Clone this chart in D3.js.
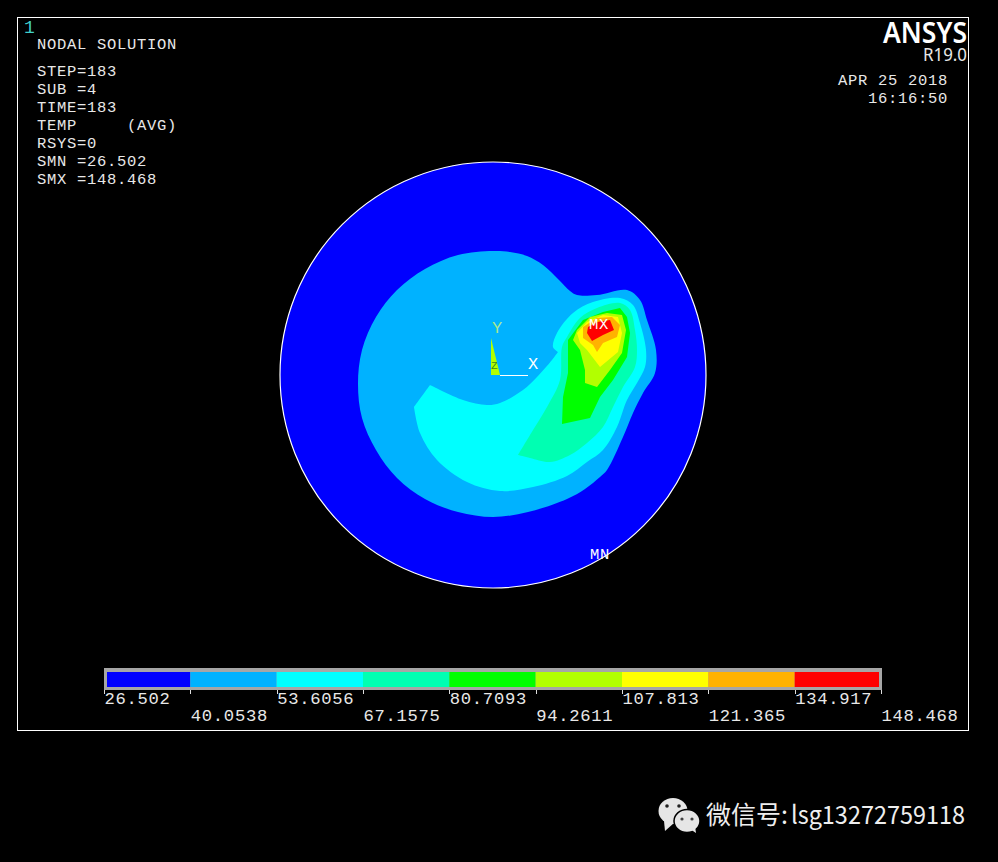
<!DOCTYPE html>
<html><head><meta charset="utf-8">
<script src="https://cdn.jsdelivr.net/npm/d3@7"></script>
<style>html,body{margin:0;background:#000;overflow:hidden}svg{display:block}
.m{font-family:"Liberation Mono",monospace;fill:#e8e8e8}</style></head>
<body><svg id="c" width="998" height="862"></svg>
<script>
const levels=[26.502,40.0538,53.6056,67.1575,80.7093,94.2611,107.813,121.365,134.917,148.468];
const levelLabels=["26.502","40.0538","53.6056","67.1575","80.7093","94.2611","107.813","121.365","134.917","148.468"];
const bandColors=["#0000ff","#00b2ff","#00ffff","#00ffb2","#00ff00","#b2ff00","#ffff00","#ffb200","#ff0000"];
const infoLines=["STEP=183","SUB =4","TIME=183","TEMP     (AVG)","RSYS=0","SMN =26.502","SMX =148.468"];
const modelRadius=213;
const band2=[[0,124],[17,123],[34,119],[50,110],[66,95],[77,84],[84,80],[104,80],[134,85],[147,75],[154,55],[163,25],[162,2],[150,-18],[140,-38],[130,-62],[114,-95],[107,-102],[92,-114],[74,-124],[35,-137],[0,-142],[-35,-137],[-68,-124],[-96,-103],[-117,-75],[-131,-43],[-135,-9],[-131,25],[-117,58],[-96,85],[-68,106],[-35,120]];
const band3=[[-63,-10],[-63,-10],[-30,-25],[-6,-30],[7,-28],[30,-15],[44,-2],[59,15],[65,23],[65,23],[60,28],[64,42],[80,62],[100,73],[127,77],[140,70],[147,52],[153,25],[152,8],[144,-8],[134,-25],[124,-52],[110,-75],[94,-87],[74,-101],[40,-112],[7,-116],[-26,-107],[-56,-85],[-73,-58],[-79,-32],[-79,-32]];
const band4=[[25,-80],[25,-80],[37,-60],[54,-32],[67,-5],[69,28],[74,38],[87,57],[104,67],[127,72],[137,65],[142,45],[144,25],[142,8],[130,-12],[120,-32],[110,-52],[94,-68],[77,-80],[57,-87],[37,-83]];
const band5=[[69,-49],[70,-22],[75,2],[75,35],[90,55],[110,63],[127,67],[134,58],[137,42],[134,18],[120,-5],[107,-22],[97,-43]];
const band6=[[92,-8],[92,5],[87,25],[80,35],[84,45],[97,58],[114,62],[129,60],[133,45],[129,22],[117,5],[104,-12]];
const band7=[[107,8],[94,25],[87,32],[84,42],[94,53],[110,60],[125,58],[129,42],[125,23]];
const band8=[[104,23],[100,30],[90,37],[90,48],[104,57],[119,58],[127,50],[124,38],[110,32]];
const band9=[[99,34],[94,42],[95,48],[104,53],[117,55],[121,45],[110,40]];
const contours=[band2,band3,band4,band5,band6,band7,band8,band9];

const svg=d3.select("#c");
svg.append("rect").attr("width",998).attr("height",862).attr("fill","#000");
svg.append("rect").attr("x",17.5).attr("y",17.5).attr("width",951).attr("height",713).attr("fill","none").attr("stroke","#fff");

const x=d3.scaleLinear().domain([-modelRadius,modelRadius]).range([280,706]);
const y=d3.scaleLinear().domain([-modelRadius,modelRadius]).range([588,162]);
const line=d3.line().x(d=>x(d[0])).y(d=>y(d[1])).curve(d3.curveLinearClosed);
const smooth=d3.line().x(d=>x(d[0])).y(d=>y(d[1])).curve(d3.curveCatmullRomClosed.alpha(.5));

svg.append("circle").attr("cx",x(0)).attr("cy",y(0)).attr("r",x(modelRadius)-x(0))
  .attr("fill",bandColors[0]).attr("stroke","#fff").attr("stroke-width",1.2);
svg.selectAll("path.band").data(contours).join("path").attr("class","band")
  .attr("d",(d,i)=>i<3?smooth(d):line(d)).attr("fill",(d,i)=>bandColors[i+1]);

// triad
svg.append("path").attr("d",line([[-2,37],[-2,0],[7,0]])).attr("fill","#b2ff00");
svg.append("line").attr("x1",x(7)).attr("x2",x(35)).attr("y1",y(0)+.5).attr("y2",y(0)+.5).attr("stroke","#fff");
const txt=(s,px,py,size,fill,anchor,ls)=>svg.append("text").attr("class","m").attr("x",px).attr("y",py)
  .attr("font-size",size).attr("text-anchor",anchor||"start").style("fill",fill||"#e8e8e8").style("letter-spacing",(ls||0)+"px").style("white-space","pre").text(s);
txt("Y",492,333,17,"#a8e890");
txt("X",528,369,17,"#ffffff");
txt("Z",491,369,11,"#3a8a20");
txt("MX",589,329,15.5,"#ffffff",null,.7);
txt("MN",590,559,15.5,"#ffffff",null,.7);

// header
txt("1",24,33,18,"#40d0c8");
txt("NODAL SOLUTION",37,49,15.5,null,null,.7);
infoLines.forEach((s,i)=>txt(s,37,76+i*18,15.5,null,null,.7));
txt("APR 25 2018",838,85,15.5,null,null,.7);
txt("16:16:50",868,103,15.5,null,null,.7);
svg.append("text").attr("x",967).attr("y",43).attr("text-anchor","end")
  .attr("font-family","Noto Sans").attr("font-weight",600).attr("font-size",29).attr("fill","#fff")
  .attr("textLength",84).attr("lengthAdjust","spacingAndGlyphs").text("ANSYS");
svg.append("text").attr("x",967).attr("y",61).attr("text-anchor","end")
  .attr("font-family","Noto Sans").attr("font-size",18).attr("fill","#e8e8e8")
  .attr("textLength",44).attr("lengthAdjust","spacingAndGlyphs").text("R19.0");

// legend
const lx=d3.scaleLinear().domain([levels[0],levels[9]]).range([104,881]);
svg.append("rect").attr("x",lx(levels[0])).attr("y",668).attr("width",lx(levels[9])-lx(levels[0])+1).attr("height",22).attr("fill","#a6a6a6");
svg.selectAll("rect.lg").data(bandColors).join("rect").attr("class","lg")
  .attr("x",(d,i)=>i==0?lx(levels[0])+3:lx(levels[i]))
  .attr("width",(d,i)=>(i==8?lx(levels[9])-2:lx(levels[i+1]))-(i==0?lx(levels[0])+3:lx(levels[i])))
  .attr("y",672).attr("height",15).attr("fill",d=>d);
svg.selectAll("line.t").data(levels).join("line").attr("class","t")
  .attr("x1",d=>Math.round(lx(d))+.5).attr("x2",d=>Math.round(lx(d))+.5).attr("y1",690).attr("y2",694).attr("stroke","#ddd");
levels.forEach((v,i)=>txt(levelLabels[i],lx(v)+.5,i%2?721:704,17.2,null,null,.7));

// watermark
const w=svg.append("g").attr("fill","#e6e6e6");
w.append("ellipse").attr("cx",673).attr("cy",811).attr("rx",14.5).attr("ry",13);
w.append("path").attr("d","M664 821L665 831L674 823Z");
w.append("ellipse").attr("cx",687).attr("cy",821).attr("rx",13).attr("ry",11.5).attr("stroke","#000").attr("stroke-width",1.5);
w.append("path").attr("d","M690 829L696 833L695 826Z");
[[667,806],[679,806]].forEach(p=>svg.append("circle").attr("cx",p[0]).attr("cy",p[1]).attr("r",1.8).attr("fill","#222"));
[[682,819],[692,819]].forEach(p=>svg.append("circle").attr("cx",p[0]).attr("cy",p[1]).attr("r",1.6).attr("fill","#444"));
svg.append("text").attr("x",706).attr("y",824).attr("font-family","Noto Sans CJK SC").attr("font-size",25).attr("fill","#eee")
  .text("微信号:");
svg.append("text").attr("x",791).attr("y",824).attr("font-family","Noto Sans CJK SC").attr("font-size",25).attr("fill","#eee")
  .attr("textLength",174).attr("lengthAdjust","spacingAndGlyphs").text("lsg13272759118");
</script></body></html>
